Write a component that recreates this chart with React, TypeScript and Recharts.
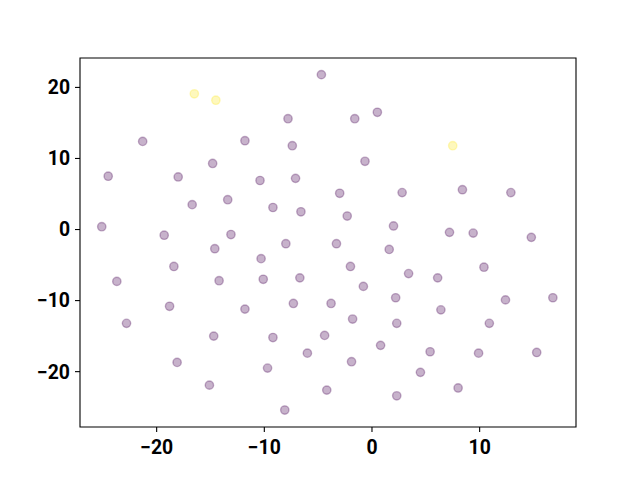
import { ScatterChart, Scatter, XAxis, YAxis, ReferenceArea } from 'recharts'

// cluster 0 (dark purple, viridis start)
const groupAX = [
  -4.7, 0.5, -1.6, -7.8, -21.3, -11.8, -7.4, -14.8, -0.65, -24.5,
  -18.0, -10.4, -7.1, -13.4, -3.0, 2.8, 8.4, 12.9, -16.7, -9.2,
  -6.6, -2.3, -25.1, 2.0, 7.2, 9.4, 14.8, -19.3, -13.1, -8.0,
  -3.3, -14.6, 1.6, -10.3, -18.4, -2.0, 10.4, 3.4, 6.1, -23.7,
  -10.1, -6.7, -14.2, -0.8, 16.8, 2.2, 12.4, -18.8, -11.8, -7.3,
  -3.8, 6.4, -22.8, -1.8, 2.3, 10.9, -14.7, -9.2, -4.4, 0.8,
  5.4, 9.9, 15.3, -6.0, -18.1, -1.9, -9.7, 4.5, -15.1, 8.0,
  -4.2, 2.3, -8.1,
]
const groupAY = [
  21.8, 16.5, 15.6, 15.6, 12.4, 12.5, 11.8, 9.3, 9.6, 7.5,
  7.4, 6.9, 7.2, 4.2, 5.1, 5.2, 5.6, 5.2, 3.5, 3.1,
  2.5, 1.9, 0.4, 0.5, -0.4, -0.5, -1.1, -0.8, -0.7, -2.0,
  -2.0, -2.7, -2.8, -4.1, -5.2, -5.2, -5.3, -6.2, -6.8, -7.3,
  -7.0, -6.8, -7.2, -8.0, -9.6, -9.6, -9.9, -10.8, -11.2, -10.4,
  -10.4, -11.3, -13.2, -12.6, -13.2, -13.2, -15.0, -15.2, -14.9, -16.3,
  -17.2, -17.4, -17.3, -17.4, -18.7, -18.6, -19.5, -20.1, -21.9, -22.3,
  -22.6, -23.4, -25.4,
]

// cluster 1 (yellow, viridis end)
const groupBX = [-16.5, -14.5, 7.5]
const groupBY = [19.1, 18.2, 11.8]

const xTicks = [-20, -10, 0, 10]
const yTicks = [-20, -10, 0, 10, 20]

const xDomain = [-27.12, 18.95]
const yDomain = [-27.79, 24.14]

const dataA = groupAX.map((x, i) => ({ x, y: groupAY[i] }))
const dataB = groupBX.map((x, i) => ({ x, y: groupBY[i] }))

const fmt = (v: number) => (v < 0 ? `\u2212${-v}` : `${v}`)

const tickStyle = {
  fill: '#000',
  fontSize: 19.4,
  fontWeight: 'bold',
  fontFamily: 'Roboto',
}

const dot = (color: string) => (props: any) => (
  <circle
    cx={props.cx}
    cy={props.cy}
    r={4.17}
    fill={color}
    fillOpacity={0.3}
    stroke={color}
    strokeOpacity={0.3}
    strokeWidth={1.4}
  />
)

export default function App() {
  return (
    <div style={{ position: 'absolute', left: 0, top: 0, width: 640, height: 480, background: '#fff' }}>
      <ScatterChart width={640} height={480} margin={{ top: 58, right: 64, bottom: 0, left: 0 }}>
        <XAxis
          type="number"
          dataKey="x"
          domain={xDomain}
          allowDataOverflow
          ticks={xTicks}
          tickFormatter={fmt}
          height={53}
          tickSize={5}
          tickMargin={8}
          tick={tickStyle}
          axisLine={false}
          tickLine={{ stroke: '#000', strokeWidth: 1.1 }}
        />
        <YAxis
          type="number"
          dataKey="y"
          domain={yDomain}
          allowDataOverflow
          ticks={yTicks}
          tickFormatter={fmt}
          width={80}
          tickSize={5}
          tickMargin={5}
          tick={tickStyle}
          axisLine={false}
          tickLine={{ stroke: '#000', strokeWidth: 1.1 }}
        />
        <Scatter data={dataA} shape={dot('#440154')} isAnimationActive={false} />
        <Scatter data={dataB} shape={dot('#fde725')} isAnimationActive={false} />
        <ReferenceArea
          x1={xDomain[0]}
          x2={xDomain[1]}
          y1={yDomain[0]}
          y2={yDomain[1]}
          fill="none"
          stroke="#000"
          strokeWidth={1.1}
          ifOverflow="visible"
        />
      </ScatterChart>
    </div>
  )
}
